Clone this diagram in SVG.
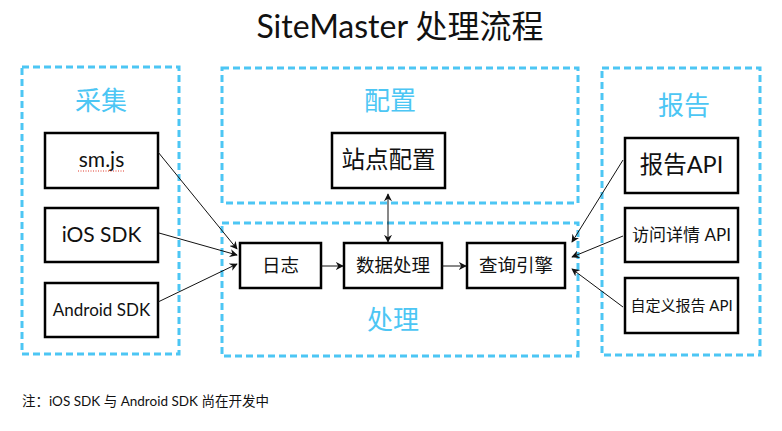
<svg xmlns="http://www.w3.org/2000/svg" width="782" height="431" viewBox="0 0 782 431">
<style>
  text { font-family: "Lato", "Open Sans", "Noto Sans CJK SC", sans-serif; fill: #111; text-anchor: middle; }
  .grp { fill: none; stroke: #4cc6f4; stroke-width: 3; stroke-dasharray: 7 4; }
  .glabel { fill: #4cc6f4; font-size: 26px; }
  .node rect { fill: #fff; stroke: #000; stroke-width: 2.5; }
  .conn line { stroke: #111; stroke-width: 1; }
</style>
<defs>
  <marker id="ah" viewBox="0 0 10 10" refX="9" refY="5" markerWidth="8" markerHeight="8" markerUnits="userSpaceOnUse" orient="auto-start-reverse">
    <path d="M0,0 L10,5 L0,10 L3,5 Z" fill="#111"/>
  </marker>
</defs>
<rect width="782" height="431" fill="#fff"/>
<text x="400" y="38" style="font-size:32px">SiteMaster 处理流程</text>

<g id="group-collect">
  <rect class="grp" x="22" y="67" width="157" height="287"/>
  <text class="glabel" x="101" y="110">采集</text>
</g>
<g id="group-config">
  <rect class="grp" x="222" y="68" width="356" height="135"/>
  <text class="glabel" x="390" y="110">配置</text>
</g>
<g id="group-process">
  <rect class="grp" x="222" y="223" width="356" height="133"/>
  <text class="glabel" x="393" y="329">处理</text>
</g>
<g id="group-report">
  <rect class="grp" x="602" y="68" width="158" height="287"/>
  <text class="glabel" x="684" y="115">报告</text>
</g>

<g id="node-smjs" class="node">
  <rect x="45" y="133" width="113" height="55"/>
  <text x="101.5" y="167" style="font-size:21px">sm.js</text>
  <line x1="78" y1="171" x2="125" y2="171" stroke="#e0392b" stroke-width="1" stroke-dasharray="1 1.5"/>
</g>
<g id="node-ios" class="node">
  <rect x="45" y="208" width="113" height="54"/>
  <text x="101.5" y="242" style="font-size:21px">iOS SDK</text>
</g>
<g id="node-android" class="node">
  <rect x="45" y="283" width="113" height="54"/>
  <text x="101.5" y="316" style="font-size:17px">Android SDK</text>
</g>
<g id="node-siteconfig" class="node">
  <rect x="332" y="133" width="113" height="55"/>
  <text x="388.5" y="168" style="font-size:23.5px">站点配置</text>
</g>
<g id="node-log" class="node">
  <rect x="240" y="243" width="81" height="45"/>
  <text x="280.5" y="272" style="font-size:18.5px">日志</text>
</g>
<g id="node-dataproc" class="node">
  <rect x="344" y="243" width="98" height="45"/>
  <text x="393" y="272" style="font-size:18.5px">数据处理</text>
</g>
<g id="node-query" class="node">
  <rect x="467" y="243" width="98" height="45"/>
  <text x="516" y="272" style="font-size:18.5px">查询引擎</text>
</g>
<g id="node-reportapi" class="node">
  <rect x="625" y="138" width="113" height="55"/>
  <text x="681.5" y="173" style="font-size:23.5px">报告API</text>
</g>
<g id="node-visitapi" class="node">
  <rect x="625" y="208" width="113" height="54"/>
  <text x="681.5" y="241" style="font-size:17px">访问详情 API</text>
</g>
<g id="node-customapi" class="node">
  <rect x="625" y="278" width="113" height="55"/>
  <text x="681.5" y="311" style="font-size:15px">自定义报告 API</text>
</g>

<g id="connectors" class="conn">
  <line x1="158" y1="152" x2="237" y2="249" marker-end="url(#ah)"/>
  <line x1="159" y1="233" x2="237" y2="255" marker-end="url(#ah)"/>
  <line x1="158" y1="302" x2="237" y2="264" marker-end="url(#ah)"/>
  <line x1="321" y1="266" x2="343" y2="266" marker-end="url(#ah)"/>
  <line x1="442" y1="266" x2="466" y2="266" marker-end="url(#ah)"/>
  <line x1="388" y1="194" x2="388" y2="242" marker-start="url(#ah)" marker-end="url(#ah)"/>
  <line x1="623" y1="160" x2="572" y2="242" marker-end="url(#ah)"/>
  <line x1="623" y1="236" x2="572" y2="257" marker-end="url(#ah)"/>
  <line x1="623" y1="307" x2="572" y2="269" marker-end="url(#ah)"/>
</g>

<text x="22" y="406" style="font-size:13.5px; text-anchor:start">注：iOS SDK 与 Android SDK 尚在开发中</text>
</svg>
